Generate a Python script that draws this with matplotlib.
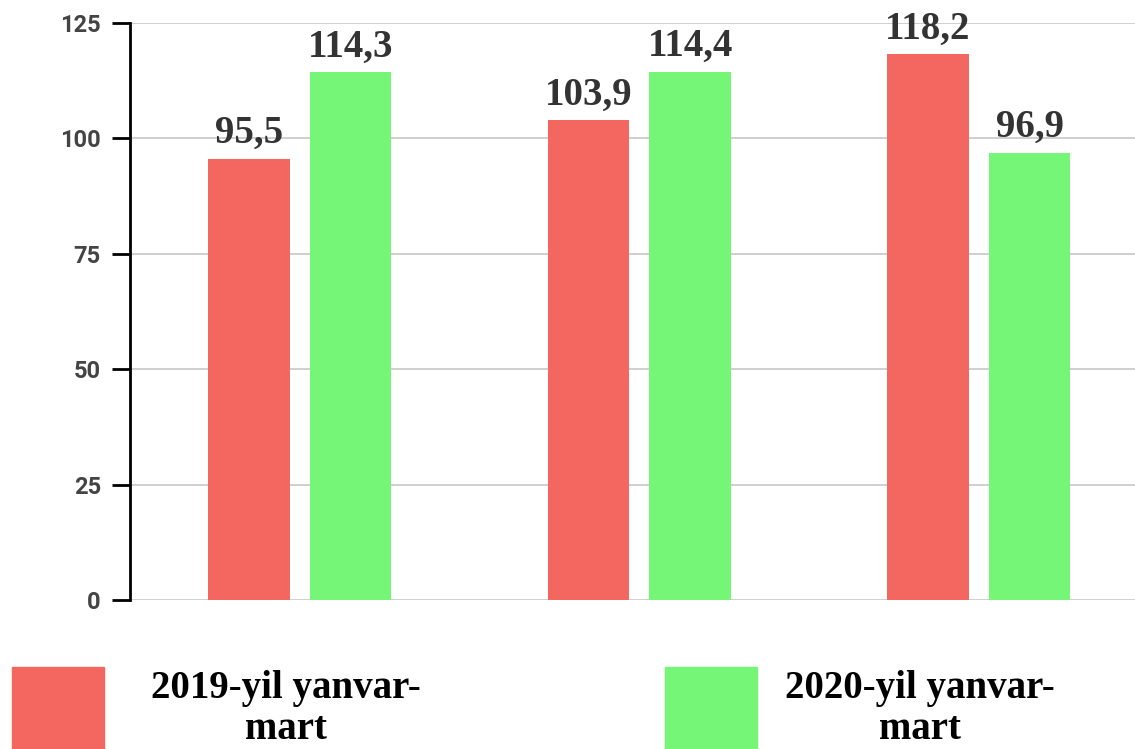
import numpy as np
from matplotlib import pyplot as plt
from matplotlib.patches import Rectangle

# Data
groups = ['A', 'B', 'C']
series_names = ['2019-yil yanvar-\nmart', '2020-yil yanvar-\nmart']
values_2019 = [95.5, 103.9, 118.2]
values_2020 = [114.3, 114.4, 96.9]
yticks = [0, 25, 50, 75, 100, 125]

red = '#F46660'
green = '#76F676'

fig = plt.figure(figsize=(11.35, 7.49), dpi=100)
ax = fig.add_axes([0.1145, 0.199, 0.8855, 0.7704])

x = np.arange(len(groups))
w = 0.24
off = 0.15
b1 = ax.bar(x - off, values_2019, w, color=red, zorder=2)
b2 = ax.bar(x + off, values_2020, w, color=green, zorder=2)

for bars, vals in ((b1, values_2019), (b2, values_2020)):
    for b, v in zip(bars, vals):
        ax.annotate('{:.1f}'.format(v).replace('.', ','),
                    (b.get_x() + b.get_width() / 2, v),
                    xytext=(0, 5), textcoords='offset points',
                    ha='center', va='bottom', fontsize=28,
                    family='Liberation Serif', fontweight='bold',
                    color='#333333', clip_on=False, zorder=3)

ax.set_xlim(-0.5, 2.46)
ax.set_ylim(0, 125)
ax.set_yticks(yticks)
ax.set_yticklabels([str(t) for t in yticks], family='Roboto',
                   fontweight='bold', fontsize=17, color='#444444')
ax.set_xticks([])
ax.grid(axis='y', color='#cccccc', linewidth=1.3, zorder=0)
for s in ['top', 'right', 'bottom']:
    ax.spines[s].set_visible(False)
ax.spines['left'].set_linewidth(2)
ax.spines['left'].set_color('black')
ax.tick_params(axis='y', length=13, width=2, color='black', pad=8)

# legend
sq_w = 92 / 1135
sq_h = 92 / 749
for xs, tx, c, name in ((12 / 1135, 286 / 1135, red, series_names[0]),
                        (665 / 1135, 920 / 1135, green, series_names[1])):
    fig.add_artist(Rectangle((xs, 1 - 759 / 749), sq_w, sq_h,
                             transform=fig.transFigure, color=c))
    fig.text(tx, 1 - 670 / 749, name, ha='center', va='top',
             family='Liberation Serif', fontweight='bold', fontsize=28,
             linespacing=1.15, color='black')

fig.savefig('out.png', dpi=100)
